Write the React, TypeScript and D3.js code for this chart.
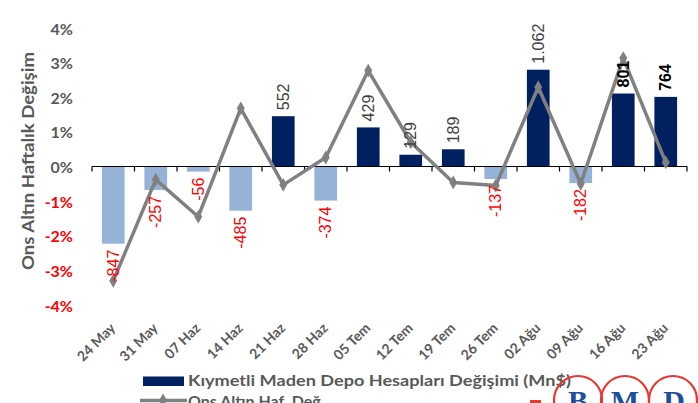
import React from "react";
import * as d3 from "d3";

const categories = ["24 May", "31 May", "07 Haz", "14 Haz", "21 Haz", "28 Haz", "05 Tem", "12 Tem", "19 Tem", "26 Tem", "02 Ağu", "09 Ağu", "16 Ağu", "23 Ağu"];
const depoValues = [-847, -257, -56, -485, 552, -374, 429, 129, 189, -137, 1062, -182, 801, 764];
const onsValues = [-3.3, -0.38, -1.45, 1.68, -0.53, 0.26, 2.77, 0.7, -0.46, -0.55, 2.29, -0.5, 3.13, 0.12];
const yTicks = [4, 3, 2, 1, 0, -1, -2, -3, -4];
const boldLabels = [801, 764];

const W = 698;
const H = 403;
const FONT = "Lato, 'Open Sans', sans-serif";

function fmtTr(v: number): string {
  const s = Math.abs(v).toString().replace(/\B(?=(\d{3})+(?!\d))/g, ".");
  return (v < 0 ? "-" : "") + s;
}

export default function App() {
  const x = d3.scaleBand<string>().domain(categories).range([92, 687]).padding(0);
  const yPct = d3.scaleLinear().domain([-4, 4]).range([305, 28]);
  const yBar = d3.scaleLinear().domain([-1520, 1520]).range([305, 28]);
  const step = x.step();
  const barW = step * 0.534;
  const cx = (c: string) => (x(c) as number) + step / 2;
  const zero = yPct(0);

  const line = d3
    .line<number>()
    .x((_, i) => cx(categories[i]))
    .y((d) => yPct(d));

  const diamond = d3.symbol().type(d3.symbolDiamond).size(55)();

  const tickXs = categories.map((c) => x(c) as number).concat([x.range()[1]]);

  return (
    <svg width={W} height={H} style={{ position: "absolute", left: 0, top: 0 }} fontFamily={FONT}>
      <rect width={W} height={H} fill="#fff" />
      {/* bars */}
      {depoValues.map((v, i) => {
        const c = categories[i];
        const y0 = yBar(0);
        const y1 = yBar(v);
        return (
          <rect
            key={c}
            x={cx(c) - barW / 2}
            y={Math.min(y0, y1)}
            width={barW}
            height={Math.abs(y1 - y0)}
            fill={v >= 0 ? "#002060" : "#95B3D7"}
          />
        );
      })}
      {/* x axis */}
      <line x1={x.range()[0]} x2={x.range()[1]} y1={zero} y2={zero} stroke="#000" strokeWidth={1.2} />
      {tickXs.map((tx, i) => (
        <line key={i} x1={tx} x2={tx} y1={zero} y2={zero + 5} stroke="#000" strokeWidth={1.2} />
      ))}
      {/* y tick labels */}
      {yTicks.map((t) => (
        <text
          key={t}
          x={73}
          y={yPct(t)}
          textAnchor="end"
          dominantBaseline="central"
          fontSize={16}
          fontWeight="bold"
          fill={t < 0 ? "#FF0000" : "#595959"}
        >
          {t + "%"}
        </text>
      ))}
      {/* y title */}
      <text
        transform={`translate(27,161) rotate(-90)`}
        textAnchor="middle"
        dominantBaseline="central"
        fontSize={17}
        fontWeight="bold"
        fill="#595959"
        textLength={218}
        lengthAdjust="spacingAndGlyphs"
      >
        Ons Altın Haftalık  Değişim
      </text>
      {/* line */}
      <path d={line(onsValues) || ""} fill="none" stroke="#808080" strokeWidth={3.5} strokeLinejoin="round" />
      {onsValues.map((v, i) => (
        <path key={i} d={diamond || ""} transform={`translate(${cx(categories[i])},${yPct(v)})`} fill="#808080" />
      ))}
      {/* bar labels */}
      {depoValues.map((v, i) => {
        const c = categories[i];
        const pos = v >= 0;
        const y = pos ? yBar(v) - 6 : yBar(v) + 6;
        const bold = boldLabels.includes(v);
        return (
          <text
            key={c}
            transform={`translate(${cx(c)},${y}) rotate(-90)`}
            textAnchor={pos ? "start" : "end"}
            dominantBaseline="central"
            fontFamily="'Liberation Sans', Arial, sans-serif"
            fontSize={16}
            fontWeight={bold ? "bold" : "normal"}
            fill={pos ? (bold ? "#000" : "#404040") : "#FF0000"}
          >
            {fmtTr(v)}
          </text>
        );
      })}
      {/* x labels */}
      {categories.map((c) => (
        <text
          key={c}
          transform={`translate(${cx(c) + 3},${329}) rotate(-45)`}
          textAnchor="end"
          fontSize={14}
          fontWeight="bold"
          fill="#595959"
        >
          {c}
        </text>
      ))}
      {/* legend */}
      <rect x={143} y={376.5} width={41} height={9.5} fill="#002060" />
      <text x={188} y={386} fontSize={16} fontWeight="bold" fill="#595959" textLength={383} lengthAdjust="spacingAndGlyphs">
        Kıymetli Maden Depo Hesapları Değişimi (Mn$)
      </text>
      <line x1={140} x2={187} y1={400.5} y2={400.5} stroke="#808080" strokeWidth={3.5} />
      <path d={diamond || ""} transform="translate(163,400.5)" fill="#808080" />
      <text x={188} y={407} fontSize={16} fontWeight="bold" fill="#595959">
        Ons Altın Haf. Değ.
      </text>
      {/* logo */}
      <g>
        <rect x={530} y={400} width={11} height={3} fill="#E53935" />
        {[578, 625, 673].map((lx) => (
          <circle key={lx} cx={lx} cy={400} r={24} fill="none" stroke="#E53935" strokeWidth={2.2} />
        ))}
        {["B", "M", "D"].map((t, i) => (
          <text
            key={t}
            x={[578, 625, 674][i]}
            y={411}
            textAnchor="middle"
            fontFamily="'Liberation Serif', serif"
            fontWeight="bold"
            fontSize={30}
            fill="#1F4E9A"
          >
            {t}
          </text>
        ))}
      </g>
    </svg>
  );
}
